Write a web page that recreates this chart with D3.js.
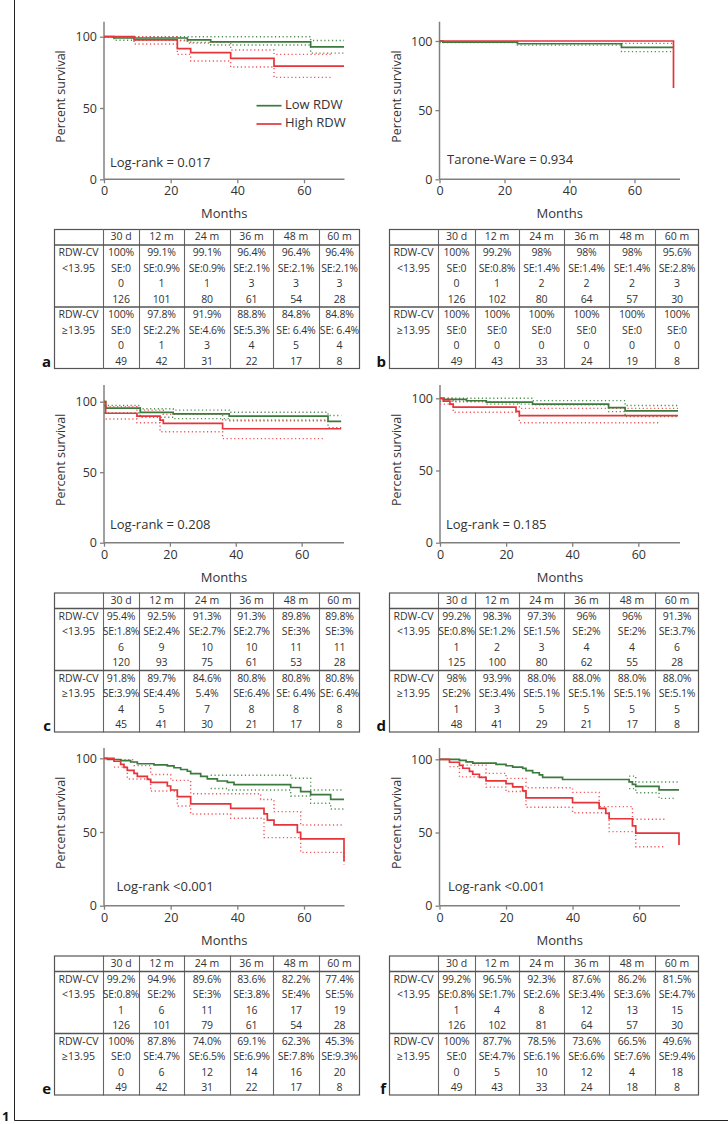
<!DOCTYPE html>
<html><head><meta charset="utf-8">
<script src="https://cdn.jsdelivr.net/npm/d3@7"></script>
<style>
body{margin:0;background:#fff;}
svg text{font-family:"Open Sans","Noto Sans",sans-serif;fill:#333;}
</style></head>
<body><svg id="fig" width="728" height="1124"></svg>
<script>
// ---------- DATA ----------
const xTicks = [0, 20, 40, 60];
const yTicks = [0, 50, 100];
const timepoints = ["30 d", "12 m", "24 m", "36 m", "48 m", "60 m"];
const rowLabelsLow = ["RDW-CV", "<13.95"];
const rowLabelsHigh = ["RDW-CV", "\u226513.95"];
const legendLabels = ["Low RDW", "High RDW"];
const panelLetters = ["a", "b", "c", "d", "e", "f"];
const testLabels = ["Log-rank = 0.017", "Tarone-Ware = 0.934", "Log-rank = 0.208", "Log-rank = 0.185", "Log-rank <0.001", "Log-rank <0.001"];

// Kaplan-Meier curves [month, percent survival]
const aLow = [[0,100],[3,99.1],[25,97.8],[32,96.4],[62,92.8],[72,92.8]];
const aLowUp = [[0,100],[62,97.3],[72,97.3]];
const aLowLo = [[0,100],[3,97.5],[25,95.5],[32,94.2],[62,88.5],[72,88.5]];
const aHigh = [[0,100],[9,97.8],[22,91.6],[26,88.8],[38,84.8],[51,79.4],[72,79.4]];
const aHighUp = [[0,100],[22,97.2],[26,96],[38,90.7],[51,87.6],[68,87.6]];
const aHighLo = [[0,100],[9,94.9],[22,87.6],[26,83],[38,78.7],[51,71.5],[68,71.5]];

const bLow = [[0,100],[1,99.2],[24,98],[56,95.4],[72,95.4]];
const bLowUp = [[56,98.3],[72,98.3]];
const bLowLo = [[0,98.8],[24,97],[56,92.3],[72,92.3]];
const bHigh = [[0,100],[72,100],[72,66]];
const bHighUp = [];
const bHighLo = [];

const cLow = [[0,100],[0.5,95.4],[11,92.5],[21,91.3],[38,89.8],[68,86],[72,86]];
const cLowUp = [[0,97.3],[11,95],[21,94],[38,92.5],[68,90.2],[72,90.2]];
const cLowLo = [[0,92],[11,89],[21,88],[38,86.5],[68,81.5],[72,81.5]];
const cHigh = [[0,100],[0.5,91.8],[10,89.7],[17,87],[18,84.6],[36,80.8],[72,80.8]];
const cHighUp = [[0.5,96.5],[10,94],[18,91],[36,87],[68,87]];
const cHighLo = [[0.5,87.7],[10,85.1],[17,78.7],[36,73.8],[67,73.8]];

const dLow = [[0,100],[1,99.2],[8,98.3],[14,97.3],[28,96],[51,93.5],[56,91.3],[72,91.3]];
const dLowUp = [[0,100],[28,98.4],[56,95],[72,95]];
const dLowLo = [[0,98],[14,96],[28,95.5],[51,90.8],[56,87.3],[72,87.3]];
const dHigh = [[0,100],[1,98],[3,96],[4,93.9],[23,91],[24,88],[72,88]];
const dHighUp = [[0,100],[4,97.5],[24,93],[72,93]];
const dHighLo = [[0,96],[4,90.3],[24,83.1],[66,83.1]];

const eLow = [[0,100],[1,99.2],[5,98.4],[8,97.5],[10,96.3],[15,95.5],[19,94.9],[21,93.6],[23,92.4],[25,91.2],[26,89.6],[29,87.8],[31,86],[34,84.6],[37,83.6],[39,82.2],[56,80.2],[59,77.4],[62,75.4],[68,72.2],[72,72.2]];
const eLowUp = [[32,88.5],[56,86.5],[62,78.5],[72,78.5]];
const eLowLo = [[32,79.5],[37,78.5],[56,74.4],[62,69.5],[68,65.6],[72,65.6]];
const eHigh = [[0,100],[3,98],[5,95.9],[6,93.9],[7,91.8],[9,89.8],[10,87.8],[13,85.7],[14,83.6],[19,81.2],[20,78.5],[22,74],[26,69.1],[38,66],[48,62.3],[49,58.1],[51,54.8],[58,49.8],[59,45.3],[72,45.3],[72,30]];
const eHighUp = [[5,99],[9,95],[14,89],[20,85],[26,76],[47,72],[51,63.8],[59,54.8],[72,54.8]];
const eHighLo = [[3,94],[7,86],[14,77.8],[22,67.6],[26,62.2],[38,59.3],[48,46.2],[59,36.2],[72,36.2],[72,28]];

const fLow = [[0,100],[6,99.2],[8,98.3],[10,97.4],[17,96.5],[20,95.6],[22,94.7],[25,93.8],[26,92.3],[28,90.8],[30,89.3],[31,87.6],[37,86.2],[57,84.6],[58,82.9],[59,81.5],[66,79.1],[72,79.1]];
const fLowUp = [[57,88.5],[59,84.5],[72,84.5]];
const fLowLo = [[57,80],[59,77.2],[66,73.3],[71,73.3]];
const fHigh = [[0,100],[3,98],[6,95.9],[7,93.9],[9,91.8],[10,89.8],[12,87.7],[14,85.3],[20,83.4],[22,81.1],[25,78.5],[26,73.6],[40,70.4],[48,66.5],[50,63.1],[51,59.4],[58,54.5],[59,49.6],[72,49.6],[72,41.5]];
const fHighUp = [[7,96],[14,90.4],[20,87],[26,80.6],[40,77.4],[48,67.7],[58,59],[68,59]];
const fHighLo = [[3,95],[6,88],[14,81],[20,78],[26,67.2],[40,63.5],[51,50.6],[59,40.3],[68,40.3]];

// Tables: [survival, SE, events, at risk] per timepoint
const aTabLow = [["100%","99.1%","99.1%","96.4%","96.4%","96.4%"],["SE:0","SE:0.9%","SE:0.9%","SE:2.1%","SE:2.1%","SE:2.1%"],["0","1","1","3","3","3"],["126","101","80","61","54","28"]];
const aTabHigh = [["100%","97.8%","91.9%","88.8%","84.8%","84.8%"],["SE:0","SE:2.2%","SE:4.6%","SE:5.3%","SE: 6.4%","SE: 6.4%"],["0","1","3","4","5","4"],["49","42","31","22","17","8"]];
const bTabLow = [["100%","99.2%","98%","98%","98%","95.6%"],["SE:0","SE:0.8%","SE:1.4%","SE:1.4%","SE:1.4%","SE:2.8%"],["0","1","2","2","2","3"],["126","102","80","64","57","30"]];
const bTabHigh = [["100%","100%","100%","100%","100%","100%"],["SE:0","SE:0","SE:0","SE:0","SE:0","SE:0"],["0","0","0","0","0","0"],["49","43","33","24","19","8"]];
const cTabLow = [["95.4%","92.5%","91.3%","91.3%","89.8%","89.8%"],["SE:1.8%","SE:2.4%","SE:2.7%","SE:2.7%","SE:3%","SE:3%"],["6","9","10","10","11","11"],["120","93","75","61","53","28"]];
const cTabHigh = [["91.8%","89.7%","84.6%","80.8%","80.8%","80.8%"],["SE:3.9%","SE:4.4%","5.4%","SE:6.4%","SE: 6.4%","SE: 6.4%"],["4","5","7","8","8","8"],["45","41","30","21","17","8"]];
const dTabLow = [["99.2%","98.3%","97.3%","96%","96%","91.3%"],["SE:0.8%","SE:1.2%","SE:1.5%","SE:2%","SE:2%","SE:3.7%"],["1","2","3","4","4","6"],["125","100","80","62","55","28"]];
const dTabHigh = [["98%","93.9%","88.0%","88.0%","88.0%","88.0%"],["SE:2%","SE:3.4%","SE:5.1%","SE:5.1%","SE:5.1%","SE:5.1%"],["1","3","5","5","5","5"],["48","41","29","21","17","8"]];
const eTabLow = [["99.2%","94.9%","89.6%","83.6%","82.2%","77.4%"],["SE:0.8%","SE:2%","SE:3%","SE:3.8%","SE:4%","SE:5%"],["1","6","11","16","17","19"],["126","101","79","61","54","28"]];
const eTabHigh = [["100%","87.8%","74.0%","69.1%","62.3%","45.3%"],["SE:0","SE:4.7%","SE:6.5%","SE:6.9%","SE:7.8%","SE:9.3%"],["0","6","12","14","16","20"],["49","42","31","22","17","8"]];
const fTabLow = [["99.2%","96.5%","92.3%","87.6%","86.2%","81.5%"],["SE:0.8%","SE:1.7%","SE:2.6%","SE:3.4%","SE:3.6%","SE:4.7%"],["1","4","8","12","13","15"],["126","102","81","64","57","30"]];
const fTabHigh = [["100%","87.7%","78.5%","73.6%","66.5%","49.6%"],["SE:0","SE:4.7%","SE:6.1%","SE:6.6%","SE:7.6%","SE:9.4%"],["0","5","10","12","4","18"],["49","43","33","24","18","8"]];

// ---------- LAYOUT ----------
const GREEN = "#3a7a3c", RED = "#e5343a", GREEN_CI = "#4e8f50", RED_CI = "#f0575c";
const leftCols = [54,103,139,184,230,273,319,360];
const rightCols = [389,438,475,519,564,609,655,699];

const panels = [
  {low:aLow,lowUp:aLowUp,lowLo:aLowLo,high:aHigh,highUp:aHighUp,highLo:aHighLo,tl:aTabLow,th:aTabHigh,
   ox:104, x72:344, axEnd:344.5, y0:179.3, y100:36.7, top:21.7, tx:110, ty:167, tabTop:229, cols:leftCols, lx:51, legend:true},
  {low:bLow,lowUp:bLowUp,lowLo:bLowLo,high:bHigh,highUp:bHighUp,highLo:bHighLo,tl:bTabLow,th:bTabHigh,
   ox:439.5, x72:673.5, axEnd:680, y0:179.3, y100:41, top:21.7, tx:447, ty:163.5, tabTop:229, cols:rightCols, lx:386},
  {low:cLow,lowUp:cLowUp,lowLo:cLowLo,high:cHigh,highUp:cHighUp,highLo:cHighLo,tl:cTabLow,th:cTabHigh,
   ox:104, x72:341.2, axEnd:344, y0:542.7, y100:401.7, top:385, tx:110, ty:528.5, tabTop:592.5, cols:leftCols, lx:51},
  {low:dLow,lowUp:dLowUp,lowLo:dLowLo,high:dHigh,highUp:dHighUp,highLo:dHighLo,tl:dTabLow,th:dTabHigh,
   ox:440, x72:678, axEnd:680, y0:542.7, y100:398.3, top:385, tx:446, ty:528.5, tabTop:592.5, cols:rightCols, lx:386},
  {low:eLow,lowUp:eLowUp,lowLo:eLowLo,high:eHigh,highUp:eHighUp,highLo:eHighLo,tl:eTabLow,th:eTabHigh,
   ox:104, x72:344, axEnd:344.5, y0:905.7, y100:758.3, top:748, tx:116.5, ty:890.5, tabTop:955.5, cols:leftCols, lx:51},
  {low:fLow,lowUp:fLowUp,lowLo:fLowLo,high:fHigh,highUp:fHighUp,highLo:fHighLo,tl:fTabLow,th:fTabHigh,
   ox:439.5, x72:679, axEnd:680, y0:905.7, y100:759.3, top:748, tx:448, ty:890.5, tabTop:955.5, cols:rightCols, lx:386}
];

const svg = d3.select("#fig");
svg.append("rect").attr("width",728).attr("height",1124).attr("fill","#fff");

// figure frame + figure number
svg.append("line").attr("x1",14.5).attr("x2",14.5).attr("y1",0).attr("y2",1120.5).attr("stroke","#222").attr("stroke-width",1);
svg.append("line").attr("x1",14.5).attr("x2",728).attr("y1",1120.5).attr("y2",1120.5).attr("stroke","#222").attr("stroke-width",1);
svg.append("text").attr("x",2).attr("y",1121).attr("font-size",13).attr("font-weight","bold").style("fill","#111").text("1");

panels.forEach((p, i) => {
  const g = svg.append("g");
  const x = d3.scaleLinear().domain([0,72]).range([p.ox, p.x72]);
  const y = d3.scaleLinear().domain([0,100]).range([p.y0, p.y100]);

  // axes
  const ya = g.append("g").attr("transform",`translate(${p.ox},0)`)
    .call(d3.axisLeft(y).tickValues(yTicks).tickSize(4).tickSizeOuter(0).tickPadding(3));
  ya.select(".domain").remove();
  const xa = g.append("g").attr("transform",`translate(0,${p.y0})`)
    .call(d3.axisBottom(x).tickValues(xTicks).tickSize(4).tickSizeOuter(0).tickPadding(3));
  xa.select(".domain").remove();
  [ya, xa].forEach(a => {
    a.selectAll(".tick line").attr("stroke","#808080").attr("stroke-width",1.3);
    a.selectAll(".tick text").attr("font-size",12.5).style("fill","#333").attr("font-family","Open Sans");
  });
  g.append("line").attr("x1",p.ox).attr("x2",p.ox).attr("y1",p.top).attr("y2",p.y0).attr("stroke","#808080").attr("stroke-width",1.5);
  g.append("line").attr("x1",p.ox).attr("x2",p.axEnd).attr("y1",p.y0).attr("y2",p.y0).attr("stroke","#808080").attr("stroke-width",1.5);

  g.append("text").attr("transform",`translate(${p.ox-42},${(p.y0+p.top)/2-4}) rotate(-90)`)
    .attr("text-anchor","middle").attr("dominant-baseline","middle").attr("font-size",12.5).text("Percent survival");
  g.append("text").attr("x",(p.ox+p.axEnd)/2).attr("y",p.y0+39).attr("text-anchor","middle").attr("font-size",13).text("Months");

  const line = d3.line().x(d=>x(d[0])).y(d=>y(d[1])).curve(d3.curveStepAfter);
  const drawCI = (data, col) => { if (data.length) g.append("path").attr("d", line(data)).attr("fill","none")
      .attr("stroke",col).attr("stroke-width",1.4).attr("stroke-dasharray","1.2,2.6"); };
  drawCI(p.lowUp, GREEN_CI); drawCI(p.lowLo, GREEN_CI);
  drawCI(p.highUp, RED_CI); drawCI(p.highLo, RED_CI);
  g.append("path").attr("d", line(p.low)).attr("fill","none").attr("stroke",GREEN).attr("stroke-width",1.7);
  g.append("path").attr("d", line(p.high)).attr("fill","none").attr("stroke",RED).attr("stroke-width",1.7);

  g.append("text").attr("x",p.tx).attr("y",p.ty).attr("font-size",13).text(testLabels[i]);

  if (p.legend) {
    [GREEN, RED].forEach((c, k) => {
      const ly = 105.7 + k*18.3;
      g.append("line").attr("x1",256.5).attr("x2",281.5).attr("y1",ly).attr("y2",ly).attr("stroke",c).attr("stroke-width",1.7);
      g.append("text").attr("x",285).attr("y",ly).attr("dominant-baseline","middle").attr("font-size",13).text(legendLabels[k]);
    });
  }

  // table
  const t = svg.append("g");
  const cols = p.cols, top = p.tabTop, hH = 16, rH = 15.5;
  const g1 = top + hH, g2 = g1 + 4*rH, bot = g2 + 4*rH;
  const left = cols[0], right = cols[cols.length-1];
  t.append("rect").attr("x",left+0.5).attr("y",top+0.5).attr("width",right-left-1).attr("height",bot-top-1)
    .attr("fill","none").attr("stroke","#555").attr("stroke-width",1.2);
  cols.slice(1,-1).forEach(cx => t.append("line").attr("x1",cx+0.5).attr("x2",cx+0.5).attr("y1",top).attr("y2",bot).attr("stroke","#666").attr("stroke-width",1.1));
  [g1, g2].forEach(yy => t.append("line").attr("x1",left).attr("x2",right).attr("y1",yy).attr("y2",yy).attr("stroke","#555").attr("stroke-width",1.3));
  const fs = 10.5;
  timepoints.forEach((tp, j) => t.append("text").attr("x",(cols[j+1]+cols[j+2])/2).attr("y",top+hH/2+0.5)
    .attr("text-anchor","middle").attr("dominant-baseline","middle").attr("font-size",fs).text(tp));
  [[rowLabelsLow, p.tl, g1],[rowLabelsHigh, p.th, g2]].forEach(([labs, tab, gy]) => {
    labs.forEach((lb, r) => t.append("text").attr("x",(cols[0]+cols[1])/2).attr("y",gy+rH*(r+0.5)+0.5)
      .attr("text-anchor","middle").attr("dominant-baseline","middle").attr("font-size",fs).text(lb));
    tab.forEach((row, r) => row.forEach((v, j) => t.append("text").attr("x",(cols[j+1]+cols[j+2])/2)
      .attr("y",gy+rH*(r+0.5)+0.5).attr("text-anchor","middle").attr("dominant-baseline","middle")
      .attr("font-size",fs).attr("letter-spacing",-0.15).text(v)));
  });
  t.append("text").attr("x",p.lx).attr("y",bot-2).attr("text-anchor","end").attr("font-size",15)
    .attr("font-weight","bold").style("fill","#111").text(panelLetters[i]);
});
</script></body></html>
